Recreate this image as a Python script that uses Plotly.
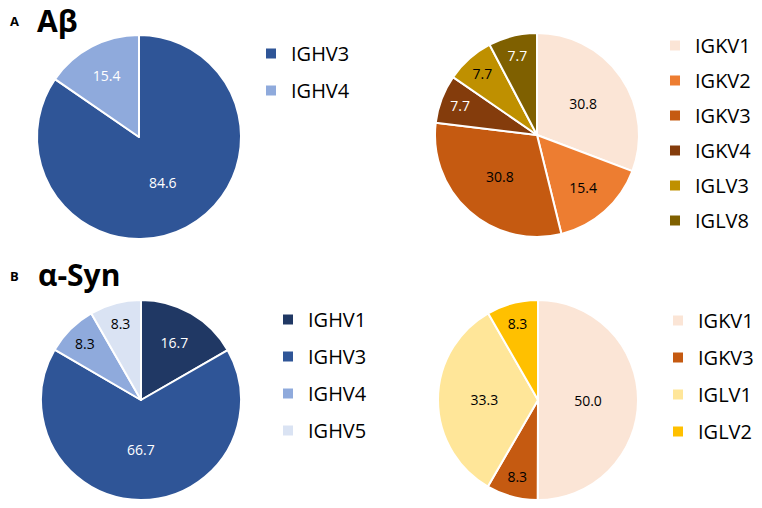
import plotly.graph_objects as go

# page has an 8px body margin, so the figure is drawn 16px smaller
OFF = 8
FW, FH = 762 - 2 * OFF, 508 - 2 * OFF

# A: Abeta heavy chain
ab_h_labels = ['IGHV3', 'IGHV4']
ab_h_values = [84.6, 15.4]
ab_h_colors = ['#2F5597', '#8FAADC']
ab_h_text = ['white', 'white']

# A: Abeta light chain
ab_l_labels = ['IGKV1', 'IGKV2', 'IGKV3', 'IGKV4', 'IGLV3', 'IGLV8']
ab_l_values = [30.8, 15.4, 30.8, 7.7, 7.7, 7.7]
ab_l_colors = ['#FBE5D6', '#ED7D31', '#C55A11', '#843C0C', '#BF9000', '#7F6000']
ab_l_text = ['black', 'black', 'black', 'white', 'black', 'white']

# B: alpha-Syn heavy chain
as_h_labels = ['IGHV1', 'IGHV3', 'IGHV4', 'IGHV5']
as_h_values = [16.7, 66.7, 8.3, 8.3]
as_h_colors = ['#203864', '#2F5597', '#8FAADC', '#DAE3F3']
as_h_text = ['white', 'white', 'black', 'black']

# B: alpha-Syn light chain
as_l_labels = ['IGKV1', 'IGKV3', 'IGLV1', 'IGLV2']
as_l_values = [50.0, 8.3, 33.3, 8.3]
as_l_colors = ['#FBE5D6', '#C55A11', '#FFE699', '#FFC000']
as_l_text = ['black', 'black', 'black', 'black']


def px(x):
    return (x - OFF) / FW


def py(y):
    return 1 - (y - OFF) / FH


def domain(cx, cy, r):
    return dict(x=[px(cx - r), px(cx + r)],
                y=[max(0, py(cy + r)), min(1, py(cy - r))])


def make_pie(k, labels, values, colors, tcolors, dom, legend):
    # plotly merges pie legend entries with equal labels across traces,
    # so each pie gets its labels padded with zero-width spaces
    return go.Pie(
        labels=[lab + '\u200b' * k for lab in labels], values=values,
        sort=False, direction='clockwise', rotation=0,
        marker=dict(colors=colors, line=dict(color='white', width=2)),
        texttemplate='%{value:.1f}', textposition='inside',
        insidetextorientation='horizontal',
        textfont=dict(family='Open Sans', size=14, color=tcolors),
        hoverinfo='skip', domain=dom, legend=legend,
    )


fig = go.Figure()
fig.add_trace(make_pie(0, ab_h_labels, ab_h_values, ab_h_colors, ab_h_text, domain(139, 137, 102), 'legend'))
fig.add_trace(make_pie(1, ab_l_labels, ab_l_values, ab_l_colors, ab_l_text, domain(537, 135, 102), 'legend2'))
fig.add_trace(make_pie(2, as_h_labels, as_h_values, as_h_colors, as_h_text, domain(141, 400, 100), 'legend3'))
fig.add_trace(make_pie(3, as_l_labels, as_l_values, as_l_colors, as_l_text, domain(538, 400, 100), 'legend4'))

# an empty, invisible entry with a named group in each legend lets
# tracegroupgap space out the slice entries
for lg in ['legend', 'legend2', 'legend3', 'legend4']:
    fig.add_trace(go.Scatter(x=[None], y=[None], mode='markers',
                             marker=dict(color='rgba(0,0,0,0)', size=1, line=dict(width=0)),
                             name='', legendgroup='pad', legend=lg, hoverinfo='skip'))


def leg(text_x, first_y, gap):
    return dict(
        x=px(text_x - 39), y=py(first_y - 19), xanchor='left', yanchor='top',
        font=dict(family='Open Sans', size=20, color='black'),
        traceorder='grouped', tracegroupgap=gap, bgcolor='rgba(0,0,0,0)',
    )


def label(text, x, y, size):
    return dict(text=text, x=px(x), y=py(y), xref='paper', yref='paper',
                xanchor='left', yanchor='middle', showarrow=False,
                font=dict(family='Open Sans', size=size, color='black'))


fig.update_layout(
    width=FW, height=FH, margin=dict(l=0, r=0, t=0, b=0, autoexpand=False),
    paper_bgcolor='white', plot_bgcolor='white',
    xaxis=dict(visible=False), yaxis=dict(visible=False),
    showlegend=True,
    legend=leg(290, 53, 8),
    legend2=leg(694, 45, 6),
    legend3=leg(307, 319, 8),
    legend4=leg(697, 320, 8),
    annotations=[
        label('<b>A</b>', 8, 21, 13),
        label('<b>Aβ</b>', 35, 20.5, 30),
        label('<b>B</b>', 8, 276, 13),
        label('<b>α-Syn</b>', 36, 274.5, 30),
    ],
)

fig.write_html('out.html')
